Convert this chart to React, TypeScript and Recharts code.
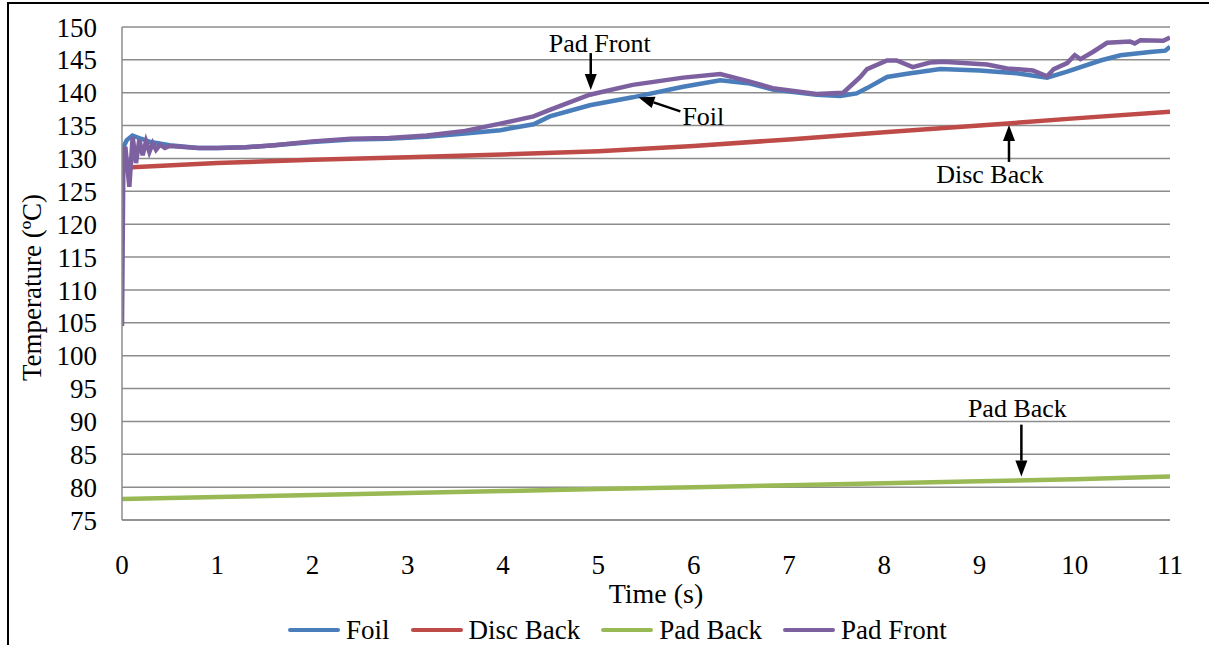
import React from 'react';
import { LineChart, Line, XAxis, YAxis, CartesianGrid, Legend, ReferenceDot } from 'recharts';

// series values (time in s, temperature in °C)
const FOIL_T = [0, 0.05, 0.11, 0.2, 0.3, 0.5, 0.8, 1.0, 1.3, 1.6, 2.0, 2.4, 2.8, 3.2, 3.6, 3.97, 4.32, 4.49, 4.91, 5.36, 5.89, 6.28, 6.59, 6.83, 7.29, 7.54, 7.71, 7.82, 8.03, 8.24, 8.59, 9.0, 9.39, 9.71, 9.92, 10.27, 10.48, 10.79, 10.95, 11];
const FOIL_V = [131.3, 132.8, 133.5, 133.0, 132.5, 132.0, 131.6, 131.6, 131.7, 132.0, 132.5, 132.9, 133.0, 133.3, 133.8, 134.3, 135.2, 136.4, 138.1, 139.3, 140.9, 141.9, 141.4, 140.5, 139.7, 139.5, 139.9, 140.7, 142.4, 142.9, 143.6, 143.4, 142.95, 142.3, 143.2, 144.9, 145.7, 146.2, 146.4, 147.0];

const DISC_T = [0, 1, 2, 3, 4, 5, 6, 7, 8, 9, 10, 11];
const DISC_V = [128.6, 129.3, 129.8, 130.2, 130.6, 131.1, 131.9, 132.9, 134.0, 135.0, 136.1, 137.1];

const PADBACK_T = [0, 1, 2, 3, 4, 5, 6, 7, 8, 9, 10, 11];
const PADBACK_V = [78.2, 78.5, 78.8, 79.1, 79.4, 79.7, 80.0, 80.3, 80.6, 80.9, 81.2, 81.6];

const PADFRONT_T = [0, 0.015, 0.035, 0.077, 0.112, 0.147, 0.182, 0.217, 0.252, 0.287, 0.322, 0.357, 0.4, 0.45, 0.5, 0.8, 1.0, 1.3, 1.6, 2.0, 2.4, 2.8, 3.2, 3.6, 3.97, 4.32, 4.49, 4.91, 5.36, 5.89, 6.28, 6.59, 6.83, 7.29, 7.57, 7.75, 7.82, 8.03, 8.13, 8.3, 8.48, 8.62, 8.87, 9.08, 9.29, 9.56, 9.71, 9.78, 9.92, 10.0, 10.06, 10.19, 10.34, 10.58, 10.63, 10.69, 10.93, 11];
const PADFRONT_V = [104.5, 130.5, 131.8, 125.7, 133.3, 129.3, 132.9, 130.5, 132.6, 131.0, 132.3, 131.3, 132.1, 131.6, 131.9, 131.6, 131.6, 131.7, 132.0, 132.6, 133.0, 133.1, 133.5, 134.2, 135.3, 136.4, 137.4, 139.7, 141.2, 142.3, 142.85, 141.7, 140.7, 139.8, 140.0, 142.4, 143.6, 144.9, 144.9, 143.9, 144.6, 144.7, 144.5, 144.3, 143.7, 143.4, 142.5, 143.6, 144.5, 145.7, 145.1, 146.2, 147.6, 147.8, 147.5, 148.0, 147.9, 148.4];

const SERIES_NAMES = ['Foil', 'Disc Back', 'Pad Back', 'Pad Front'];
const X_TICKS = [0, 1, 2, 3, 4, 5, 6, 7, 8, 9, 10, 11];
const Y_TICKS = [75, 80, 85, 90, 95, 100, 105, 110, 115, 120, 125, 130, 135, 140, 145, 150];

// callouts: label + point the arrow touches
const NOTE_LABELS = ['Pad Front', 'Foil', 'Disc Back', 'Pad Back'];
const NOTE_T = [4.92, 5.42, 9.31, 9.44];
const NOTE_V = [140.4, 139.3, 135.1, 81.6];

const COLORS = ['#4A7EBB', '#BE4B48', '#98B954', '#7D60A0'];
const FONT = '"Liberation Serif", "Times New Roman", serif';
const GRID = '#8c8c8c';

// pixel layout of each callout relative to the arrow tip
const NOTE_LAYOUT = [
  { tail: [0, -37], text: [9, -38], anchor: 'middle' },
  { tail: [42, 14], text: [44, 28], anchor: 'start' },
  { tail: [0, 37], text: [-19, 58], anchor: 'middle' },
  { tail: [0, -52], text: [-4, -60], anchor: 'middle' },
];

const zip = (ts: number[], vs: number[]) => ts.map((t, i) => ({ t, v: vs[i] }));
const SERIES_DATA = [
  zip(FOIL_T, FOIL_V),
  zip(DISC_T, DISC_V),
  zip(PADBACK_T, PADBACK_V),
  zip(PADFRONT_T, PADFRONT_V),
];

function Callout({ cx, cy, idx }: { cx: number; cy: number; idx: number }) {
  const lay = NOTE_LAYOUT[idx];
  const [tx, ty] = lay.tail;
  const len = Math.hypot(tx, ty);
  const ux = -tx / len;
  const uy = -ty / len;
  const head = 16;
  const half = 6;
  const bx = cx - ux * head;
  const by = cy - uy * head;
  const pts = [
    `${cx},${cy}`,
    `${bx - uy * half},${by + ux * half}`,
    `${bx + uy * half},${by - ux * half}`,
  ].join(' ');
  return (
    <g>
      <line x1={cx + tx} y1={cy + ty} x2={bx} y2={by} stroke="#000" strokeWidth={2.5} />
      <polygon points={pts} fill="#000" />
      <text
        x={cx + lay.text[0]}
        y={cy + lay.text[1]}
        textAnchor={lay.anchor as any}
        fontFamily={FONT}
        fontSize={26}
        fill="#000"
      >
        {NOTE_LABELS[idx]}
      </text>
    </g>
  );
}

function LegendRow() {
  return (
    <div style={{ display: 'flex', alignItems: 'center', height: 30, fontFamily: FONT, fontSize: 27, color: '#000', whiteSpace: 'nowrap' }}>
      {SERIES_NAMES.map((name, i) => (
        <div key={name} style={{ display: 'flex', alignItems: 'center', marginRight: 21 }}>
          <span style={{ display: 'inline-block', width: 52, height: 4.5, borderRadius: 2, background: COLORS[i], marginRight: 6 }} />
          <span>{name}</span>
        </div>
      ))}
    </div>
  );
}

export default function App() {
  return (
    <div style={{ position: 'absolute', left: 0, top: 0, width: 1209, height: 645, overflow: 'hidden', background: '#fff' }}>
      <div style={{ position: 'absolute', left: 7, top: 2, width: 1230, height: 700, border: '2.5px solid #000' }} />
      <div style={{ position: 'absolute', left: 0, top: 0 }}>
        <LineChart width={1209} height={645} margin={{ top: 27, right: 39, left: 0, bottom: 5 }}>
          <CartesianGrid vertical={false} stroke={GRID} strokeWidth={1.5} />
          <XAxis
            type="number"
            dataKey="t"
            domain={[0, 11]}
            ticks={X_TICKS}
            allowDataOverflow
            height={90}
            tickLine={false}
            tickSize={0}
            tickMargin={35}
            axisLine={{ stroke: GRID, strokeWidth: 1.5 }}
            tick={{ fill: '#000', fontFamily: FONT, fontSize: 27 }}
            label={(p: any) => (
              <text
                x={p.viewBox.x + p.viewBox.width / 2 + 10}
                y={p.viewBox.y + 83}
                textAnchor="middle"
                fontFamily={FONT}
                fontSize={28}
                fill="#000"
              >
                Time (s)
              </text>
            )}
          />
          <YAxis
            type="number"
            domain={[75, 150]}
            ticks={Y_TICKS}
            interval={0}
            width={122}
            tickLine={false}
            tickSize={0}
            tickMargin={25}
            axisLine={{ stroke: GRID, strokeWidth: 1.5 }}
            tick={{ fill: '#000', fontFamily: FONT, fontSize: 27 }}
            label={(p: any) => {
              const cy = p.viewBox.y + p.viewBox.height / 2 + 14;
              return (
                <text
                  x={41}
                  y={cy}
                  transform={`rotate(-90, 41, ${cy})`}
                  textAnchor="middle"
                  fontFamily={FONT}
                  fontSize={27}
                  fill="#000"
                >
                  Temperature (ºC)
                </text>
              );
            }}
          />
          <Legend
            content={LegendRow}
            wrapperStyle={{ left: 288, top: 615, bottom: 'auto', width: 'auto', height: 30 }}
          />
          {SERIES_NAMES.map((name, i) => (
            <Line
              key={name}
              name={name}
              data={SERIES_DATA[i]}
              dataKey="v"
              type="linear"
              stroke={COLORS[i]}
              strokeWidth={4.5}
              dot={false}
              activeDot={false}
              isAnimationActive={false}
            />
          ))}
          {NOTE_LABELS.map((label, i) => (
            <ReferenceDot
              key={label}
              x={NOTE_T[i]}
              y={NOTE_V[i]}
              r={0}
              shape={(p: any) => <Callout cx={p.cx} cy={p.cy} idx={i} />}
            />
          ))}
        </LineChart>
      </div>
    </div>
  );
}
